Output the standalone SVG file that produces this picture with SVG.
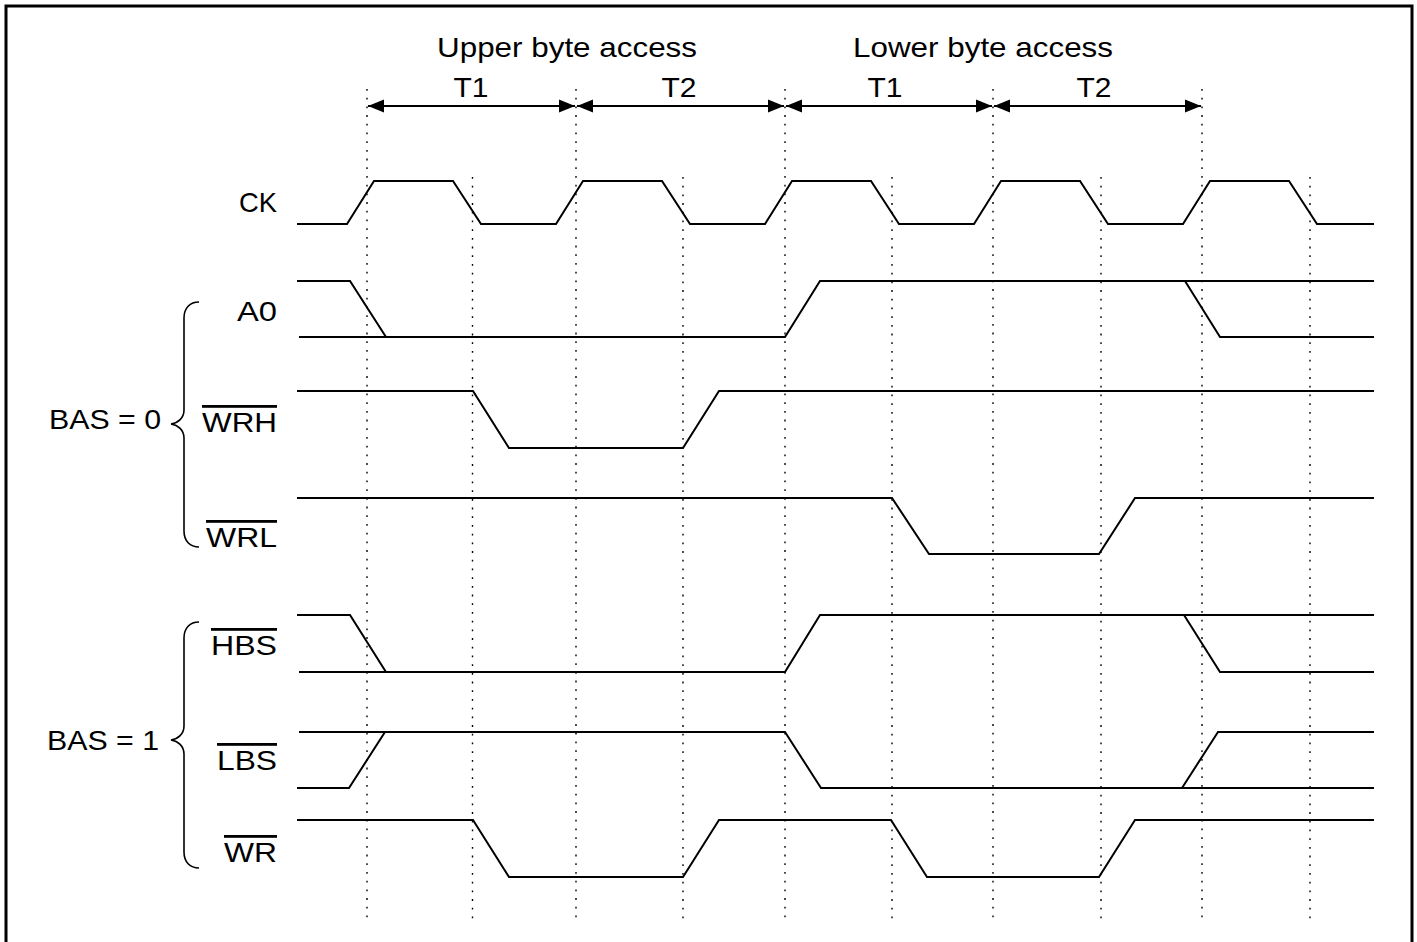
<svg xmlns="http://www.w3.org/2000/svg" width="1417" height="942" viewBox="0 0 1417 942">
<style>
text{font-family:"Liberation Sans",Arial,Helvetica,sans-serif;font-size:28px;fill:#000}
.lbl{text-anchor:end}
.ol{text-decoration:overline}
.mid{text-anchor:middle}
.wave{fill:none;stroke:#000;stroke-width:2;stroke-linejoin:miter}
.ref{fill:none;stroke:#000;stroke-width:2}
.dot{stroke:#000;stroke-width:1.4;stroke-dasharray:1.8 6.9}
.brace{fill:none;stroke:#000;stroke-width:1.6}
.arr{stroke:#000;stroke-width:2;marker-start:url(#ah);marker-end:url(#ah)}
</style>
<defs>
<marker id="ah" markerUnits="userSpaceOnUse" markerWidth="17" markerHeight="14" refX="16" refY="7" orient="auto-start-reverse">
<path d="M0,0.5 L16,7 L0,13.5 z" fill="#000"/>
</marker>
</defs>
<rect width="1417" height="942" fill="#fff"/>
<path d="M6,942 V6 H1412 V942" fill="none" stroke="#000" stroke-width="3"/>

<g id="grid">
<line class="dot" x1="367" y1="89" x2="367" y2="922"/>
<line class="dot" x1="576" y1="89" x2="576" y2="922"/>
<line class="dot" x1="785" y1="89" x2="785" y2="922"/>
<line class="dot" x1="993" y1="89" x2="993" y2="922"/>
<line class="dot" x1="1202" y1="89" x2="1202" y2="922"/>
<line class="dot" x1="472.5" y1="177" x2="472.5" y2="922"/>
<line class="dot" x1="683" y1="177" x2="683" y2="922"/>
<line class="dot" x1="892" y1="177" x2="892" y2="922"/>
<line class="dot" x1="1101" y1="177" x2="1101" y2="922"/>
<line class="dot" x1="1310" y1="177" x2="1310" y2="922"/>
</g>

<g id="headers">
<text class="mid" x="567" y="57" textLength="260" lengthAdjust="spacingAndGlyphs">Upper byte access</text>
<text class="mid" x="983" y="57" textLength="260" lengthAdjust="spacingAndGlyphs">Lower byte access</text>
<text class="mid" x="471" y="97" textLength="35" lengthAdjust="spacingAndGlyphs">T1</text>
<text class="mid" x="679" y="97" textLength="35" lengthAdjust="spacingAndGlyphs">T2</text>
<text class="mid" x="885" y="97" textLength="35" lengthAdjust="spacingAndGlyphs">T1</text>
<text class="mid" x="1094" y="97" textLength="35" lengthAdjust="spacingAndGlyphs">T2</text>
</g>

<g id="connectors">
<line class="arr" x1="368" y1="106" x2="575" y2="106"/>
<line class="arr" x1="577" y1="106" x2="784" y2="106"/>
<line class="arr" x1="786" y1="106" x2="992" y2="106"/>
<line class="arr" x1="994" y1="106" x2="1201" y2="106"/>
</g>

<g id="sig-ck">
<text class="lbl" x="277" y="212" textLength="38" lengthAdjust="spacingAndGlyphs">CK</text>
<path class="wave" d="M297,224 H347 L374,181 H453 L481,224 H556 L583,181 H662 L690,224 H765 L792,181 H871 L899,224 H974 L1001,181 H1080 L1108,224 H1183 L1210,181 H1289 L1317,224 H1374"/>
</g>

<g id="brace-bas0">
<text class="lbl" x="161" y="429" textLength="112" lengthAdjust="spacingAndGlyphs">BAS = 0</text>
<path class="brace" d="M199,302 C190,302 184,308 184,318 V410 C184,418 178,423 171,424 C178,425 184,430 184,438 V531 C184,541 190,547 199,547"/>
</g>

<g id="sig-a0">
<text class="lbl" x="277" y="321" textLength="40" lengthAdjust="spacingAndGlyphs">A0</text>
<path class="wave" d="M297,281 H350 L386,337 H785 L820,281 H1185 L1220,337 H1374"/>
<path class="ref" d="M299,337 H386 M1185,281 H1374"/>
</g>

<g id="sig-wrh">
<text class="lbl ol" x="277" y="432" textLength="75" lengthAdjust="spacingAndGlyphs">WRH</text>
<path class="wave" d="M297,391 H473 L509,448 H683 L719,391 H1374"/>
</g>

<g id="sig-wrl">
<text class="lbl ol" x="277" y="547" textLength="71" lengthAdjust="spacingAndGlyphs">WRL</text>
<path class="wave" d="M297,498 H892 L929,554 H1099 L1135,498 H1374"/>
</g>

<g id="brace-bas1">
<text class="lbl" x="159" y="750" textLength="112" lengthAdjust="spacingAndGlyphs">BAS = 1</text>
<path class="brace" d="M199,622 C190,622 184,628 184,638 V726 C184,734 178,739 171,740 C178,741 184,746 184,754 V852 C184,862 190,868 199,868"/>
</g>

<g id="sig-hbs">
<text class="lbl ol" x="277" y="655" textLength="66" lengthAdjust="spacingAndGlyphs">HBS</text>
<path class="wave" d="M297,615 H350 L386,672 H785 L820,615 H1184 L1220,672 H1374"/>
<path class="ref" d="M299,672 H386 M1184,615 H1374"/>
</g>

<g id="sig-lbs">
<text class="lbl ol" x="277" y="770" textLength="60" lengthAdjust="spacingAndGlyphs">LBS</text>
<path class="wave" d="M297,788 H349 L385,732 H785 L821,788 H1182 L1218,732 H1374"/>
<path class="ref" d="M299,732 H385 M1182,788 H1374"/>
</g>

<g id="sig-wr">
<text class="lbl ol" x="277" y="862" textLength="53" lengthAdjust="spacingAndGlyphs">WR</text>
<path class="wave" d="M297,820 H473 L509,877 H683 L719,820 H891 L927,877 H1099 L1135,820 H1374"/>
</g>
</svg>
